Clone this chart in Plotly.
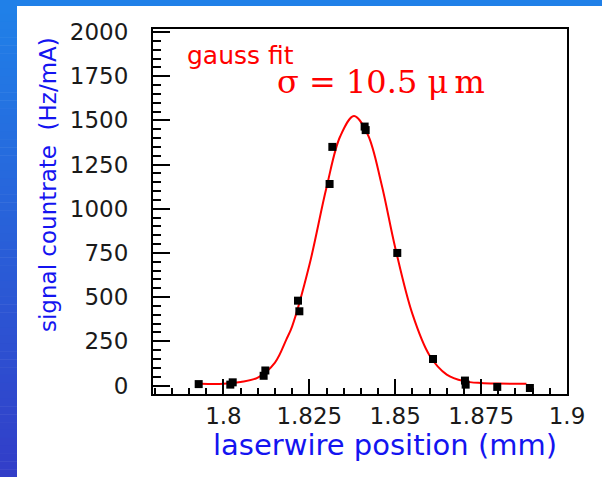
import plotly.graph_objects as go

# ---- data ----
fit_x = [1.7935, 1.800, 1.805, 1.810, 1.815, 1.8183, 1.820, 1.825, 1.830, 1.834, 1.838,
         1.842, 1.846, 1.850, 1.855, 1.860, 1.865, 1.870, 1.875, 1.880, 1.8882]
fit_y = [10, 10, 20, 45, 130, 260, 335, 680, 1120, 1410, 1525,
         1420, 1140, 780, 405, 170, 62, 25, 14, 11, 10]

data_x = [1.7928, 1.8020, 1.8027, 1.8117, 1.8122, 1.8217, 1.8221, 1.8309, 1.8317,
          1.8411, 1.8414, 1.8506, 1.8610, 1.8703, 1.8705, 1.8797, 1.8892]
data_y = [8, 5, 18, 55, 85, 480, 420, 1140, 1350,
          1465, 1445, 750, 150, 28, 5, -8, -14]

x_tick_vals = [1.8, 1.825, 1.85, 1.875, 1.9]
x_tick_text = ["1.8", "1.825", "1.85", "1.875", "1.9"]
y_tick_vals = [0, 250, 500, 750, 1000, 1250, 1500, 1750, 2000]
y_tick_text = ["0", "250", "500", "750", "1000", "1250", "1500", "1750", "2000"]

x_title = "laserwire position (mm)"
y_title = "signal countrate\u00a0\u00a0(Hz/mA)"
fit_label = "gauss fit"
sigma_label = "\u03c3 = 10.5 \u03bc\u2009m"

# ---- layout geometry (pixels) ----
W, H = 602, 477
L, R, T, B = 153, 35, 29, 83
PW, PH = W - L - R, H - T - B


def px_x(px):
    return (px - L) / PW


def px_y(py):
    return (H - B - py) / PH


fig = go.Figure()
fig.add_trace(go.Scatter(x=fit_x, y=fit_y, mode="lines",
                         line=dict(color="#ff0000", width=2, shape="spline", smoothing=1.0),
                         hoverinfo="skip", showlegend=False))
fig.add_trace(go.Scatter(x=data_x, y=data_y, mode="markers",
                         marker=dict(symbol="square", size=8, color="black"),
                         showlegend=False))

# background blue border: top strip and left gradient strip
shapes = []
shapes.append(dict(type="rect", xref="paper", yref="paper",
                   x0=px_x(0), x1=px_x(W), y0=px_y(6), y1=px_y(0),
                   fillcolor="#2080e8", line=dict(width=0), layer="below"))
n = 60
c0 = (32, 128, 232)
c1 = (50, 62, 200)
for i in range(n):
    f = i / (n - 1)
    col = "rgb(%d,%d,%d)" % tuple(round(a + (b - a) * f) for a, b in zip(c0, c1))
    ya = 6 + (H - 6) * i / n
    yb = 6 + (H - 6) * (i + 1) / n + 0.5
    shapes.append(dict(type="rect", xref="paper", yref="paper",
                       x0=px_x(0), x1=px_x(17), y0=px_y(yb), y1=px_y(ya),
                       fillcolor=col, line=dict(width=0), layer="below"))

annotations = [
    dict(text=x_title, xref="paper", yref="paper", x=px_x(385), y=px_y(445),
         xanchor="center", yanchor="middle", showarrow=False,
         font=dict(family="DejaVu Sans", size=29, color="#1414f0")),
    dict(text=y_title, xref="paper", yref="paper", x=px_x(48), y=px_y(185),
         xanchor="center", yanchor="middle", showarrow=False, textangle=-90,
         font=dict(family="DejaVu Sans", size=23, color="#1414f0")),
    dict(text=fit_label, xref="paper", yref="paper", x=px_x(185), y=px_y(55),
         xanchor="left", yanchor="middle", showarrow=False,
         font=dict(family="DejaVu Sans", size=25, color="#ff0000")),
    dict(text=sigma_label, xref="paper", yref="paper", x=px_x(381), y=px_y(82),
         xanchor="center", yanchor="middle", showarrow=False,
         font=dict(family="DejaVu Serif", size=32, color="#ff0000")),
]

axis_common = dict(showline=True, linecolor="black", linewidth=2, mirror=True,
                   ticks="inside", tickcolor="black", tickwidth=2,
                   showgrid=False, zeroline=False,
                   tickfont=dict(family="DejaVu Sans", size=23, color="#1a1a1a"))

fig.update_layout(
    width=W, height=H,
    margin=dict(l=L, r=R, t=T, b=B, pad=0),
    paper_bgcolor="white", plot_bgcolor="white",
    showlegend=False,
    shapes=shapes,
    annotations=annotations,
    xaxis=dict(range=[1.7795, 1.9], tickvals=x_tick_vals, ticktext=x_tick_text,
               ticklen=15, ticklabelstandoff=0,
               minor=dict(ticks="inside", ticklen=6, tickwidth=2, tickcolor="black",
                          dtick=0.005, tick0=1.8, showgrid=False),
               **axis_common),
    yaxis=dict(range=[-48, 2017], tickvals=y_tick_vals, ticktext=y_tick_text,
               ticklen=17, ticklabelstandoff=18,
               minor=dict(ticks="inside", ticklen=8, tickwidth=2, tickcolor="black",
                          dtick=50, tick0=0, showgrid=False),
               **axis_common),
)

fig.write_html("out.html")
